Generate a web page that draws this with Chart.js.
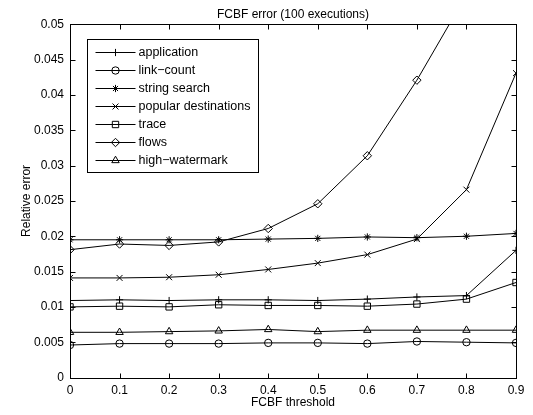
<!DOCTYPE html>
<html>
<head>
<meta charset="utf-8">
<script src="https://cdn.jsdelivr.net/npm/chart.js@4/dist/chart.umd.min.js"></script>
<style>
  html, body { margin: 0; padding: 0; background: #fff; }
</style>
</head>
<body>
<canvas id="chart" width="533" height="415"></canvas>
<script>
const thresholds = [0, 0.1, 0.2, 0.3, 0.4, 0.5, 0.6, 0.7, 0.8, 0.9];
const yTicks = [0, 0.005, 0.01, 0.015, 0.02, 0.025, 0.03, 0.035, 0.04, 0.045, 0.05];

const application = [0.0109, 0.0110, 0.0109, 0.0110, 0.0110, 0.0109, 0.0111, 0.0114, 0.0116, 0.0180];
const linkCount = [0.0046, 0.0048, 0.0048, 0.0048, 0.0049, 0.0049, 0.0048, 0.0051, 0.0050, 0.0049];
const stringSearch = [0.0195, 0.0195, 0.0195, 0.0195, 0.0196, 0.0197, 0.0199, 0.0198, 0.0200, 0.0204];
const popularDest = [0.0141, 0.0141, 0.0142, 0.01455, 0.0153, 0.0162, 0.0174, 0.0196, 0.0266, 0.0431];
const trace = [0.0100, 0.0101, 0.0100, 0.0103, 0.0102, 0.0102, 0.0101, 0.0104, 0.0111, 0.01345];
const flows = [0.0181, 0.0189, 0.0187, 0.0192, 0.0211, 0.0246, 0.0314, 0.0421, 0.0542, 0.068];
const highWatermark = [0.0064, 0.0064, 0.0065, 0.0066, 0.0068, 0.0065, 0.0067, 0.0067, 0.0067, 0.0067];

const FONT = { family: '"Liberation Sans", Arial, Helvetica, sans-serif', size: 12 };

function series(label, values, pointStyle, pointRadius) {
  return {
    label,
    data: thresholds.map((t, i) => ({ x: t, y: values[i] })),
    borderColor: '#000',
    borderWidth: 1,
    pointStyle,
    pointRadius,
    pointBorderWidth: 1,
    pointBorderColor: '#000',
    pointBackgroundColor: 'rgba(0,0,0,0)',
    tension: 0,
  };
}

// box, inward ticks on all four sides
const frame = {
  id: 'frame',
  afterDraw(chart) {
    const { ctx, chartArea: a, scales } = chart;
    const L = Math.round(a.left) + 0.5, R = Math.round(a.right) + 0.5;
    const T = Math.round(a.top) + 0.5, B = Math.round(a.bottom) + 0.5;
    ctx.save();
    ctx.strokeStyle = '#000';
    ctx.lineWidth = 1;
    ctx.strokeRect(L, T, R - L, B - T);
    ctx.beginPath();
    scales.x.ticks.forEach(t => {
      const px = Math.round(scales.x.getPixelForValue(t.value)) + 0.5;
      ctx.moveTo(px, B); ctx.lineTo(px, B - 5);
      ctx.moveTo(px, T); ctx.lineTo(px, T + 5);
    });
    scales.y.ticks.forEach(t => {
      const py = Math.round(scales.y.getPixelForValue(t.value)) + 0.5;
      ctx.moveTo(L, py); ctx.lineTo(L + 5, py);
      ctx.moveTo(R, py); ctx.lineTo(R - 5, py);
    });
    ctx.stroke();
    ctx.restore();
  }
};

// matlab-style legend: line with marker in the middle
const boxLegend = {
  id: 'boxLegend',
  afterDraw(chart) {
    const { ctx, chartArea: a } = chart;
    const sets = chart.data.datasets;
    const x0 = Math.round(a.left) + 17.5, y0 = Math.round(a.top) + 15.5;
    const rowH = 18;
    ctx.save();
    ctx.font = `12.5px ${FONT.family}`;
    const textW = Math.max(...sets.map(d => ctx.measureText(d.label).width));
    const w = Math.round(51 + textW + 8), h = Math.round(rowH * sets.length + 7);
    ctx.fillStyle = '#fff';
    ctx.fillRect(x0, y0, w, h);
    ctx.strokeStyle = '#000';
    ctx.lineWidth = 1;
    ctx.strokeRect(x0, y0, w, h);
    sets.forEach((d, i) => {
      const cy = y0 + 13 + i * rowH;
      ctx.beginPath();
      ctx.moveTo(x0 + 8, cy); ctx.lineTo(x0 + 48, cy);
      ctx.stroke();
      ctx.fillStyle = 'rgba(0,0,0,0)';
      Chart.helpers.drawPoint(ctx, { pointStyle: d.pointStyle, radius: d.pointRadius, rotation: 0, borderWidth: 1 }, x0 + 28, cy);
      ctx.fillStyle = '#000';
      ctx.textBaseline = 'middle';
      ctx.textAlign = 'left';
      ctx.fillText(d.label, x0 + 51, cy + 0.5);
    });
    ctx.restore();
  }
};

new Chart(document.getElementById('chart'), {
  type: 'line',
  data: {
    datasets: [
      series('application', application, 'cross', 3.6),
      series('link\u2212count', linkCount, 'circle', 3.7),
      series('string search', stringSearch, 'star', 3.6),
      series('popular destinations', popularDest, 'crossRot', 4.2),
      series('trace', trace, 'rect', 4.5),
      series('flows', flows, 'rectRot', 4.2),
      series('high\u2212watermark', highWatermark, 'triangle', 4.3),
    ],
  },
  options: {
    responsive: false,
    animation: false,
    layout: { padding: { left: 0, right: 17, top: 0, bottom: 0 } },
    plugins: {
      legend: { display: false },
      tooltip: { enabled: false },
      title: {
        display: true,
        text: 'FCBF error (100 executions)',
        color: '#000',
        font: { ...FONT, weight: 'normal' },
        padding: { top: 7, bottom: 3 },
        fullSize: false,
      },
    },
    scales: {
      x: {
        type: 'linear',
        min: 0,
        max: 0.9,
        afterBuildTicks(scale) { scale.ticks = thresholds.map(v => ({ value: v })); },
        afterFit(scale) { scale.height = 37.5; },
        grid: { display: false, drawTicks: false, tickLength: 0 },
        border: { display: false },
        ticks: {
          color: '#000',
          font: FONT,
          padding: 6,
          maxRotation: 0,
          autoSkip: false,
          callback: v => String(+v.toFixed(2)),
        },
        title: {
          display: true,
          text: 'FCBF threshold',
          color: '#000',
          font: FONT,
          padding: { top: 0, bottom: 5 },
        },
      },
      y: {
        min: 0,
        max: 0.05,
        afterBuildTicks(scale) { scale.ticks = yTicks.map(v => ({ value: v })); },
        afterFit(scale) { scale.width = 70; },
        grid: { display: false, drawTicks: false, tickLength: 0 },
        border: { display: false },
        ticks: {
          color: '#000',
          font: FONT,
          padding: 6,
          autoSkip: false,
          callback: v => String(+v.toFixed(4)),
        },
        title: {
          display: true,
          text: 'Relative error',
          color: '#000',
          font: FONT,
          padding: { top: 19, bottom: 0 },
        },
      },
    },
  },
  plugins: [frame, boxLegend],
});
</script>
</body>
</html>
